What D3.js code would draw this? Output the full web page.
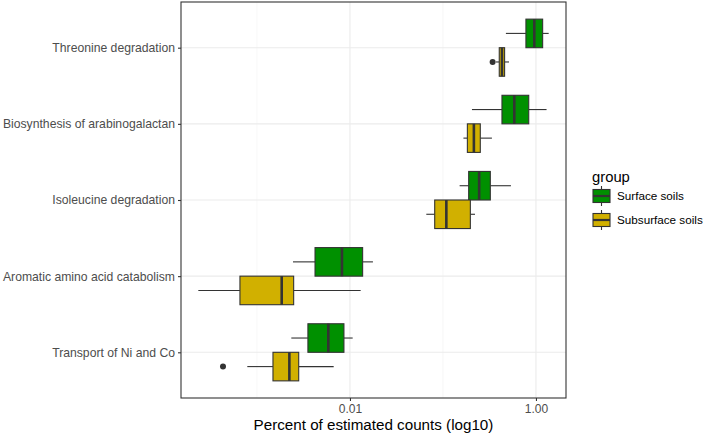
<!DOCTYPE html>
<html>
<head>
<meta charset="utf-8">
<script src="https://cdn.jsdelivr.net/npm/d3@7"></script>
<style>
  body { margin: 0; background: #fff; }
  text { font-family: "Liberation Sans", Arial, sans-serif; }
</style>
</head>
<body>
<svg id="chart" width="707" height="437"></svg>
<script>
// ---- data (five-number summaries) ----
const categories = ["Threonine degradation", "Biosynthesis of arabinogalactan", "Isoleucine degradation", "Aromatic amino acid catabolism", "Transport of Ni and Co"];
const groups = ["Surface soils", "Subsurface soils"];
const groupColors = ["#009000", "#D1B000"];

// Surface soils
const surfaceMin    = [0.475, 0.205, 0.151, 0.00244, 0.00234];
const surfaceQ1     = [0.78,  0.431, 0.189, 0.00421, 0.00353];
const surfaceMedian = [0.96,  0.585, 0.245, 0.0082,  0.00585];
const surfaceQ3     = [1.18,  0.836, 0.323, 0.01368, 0.00861];
const surfaceMax    = [1.37,  1.30,  0.538, 0.01766, 0.01069];
const surfaceOutliers = [[], [], [], [], []];

// Subsurface soils
const subsurfaceMin    = [0.372, 0.166, 0.0662, 0.000234, 0.000787];
const subsurfaceQ1     = [0.403, 0.183, 0.0815, 0.000656, 0.001486];
const subsurfaceMedian = [0.431, 0.215, 0.1087, 0.001845, 0.00223];
const subsurfaceQ3     = [0.460, 0.252, 0.197,  0.00248,  0.00281];
const subsurfaceMax    = [0.513, 0.336, 0.221,  0.01303,  0.00668];
const subsurfaceOutliers = [[0.342], [], [], [], [0.000431]];

const xTickValues = [0.01, 1];
const xTickLabels = ["0.01", "1.00"];
const xMinorValues = [0.001, 0.1];
const xTitle = "Percent of estimated counts (log10)";
const legendTitle = "group";

// ---- build records ----
const series = [
  { group: groups[0], color: groupColors[0], min: surfaceMin, q1: surfaceQ1, med: surfaceMedian, q3: surfaceQ3, max: surfaceMax, out: surfaceOutliers },
  { group: groups[1], color: groupColors[1], min: subsurfaceMin, q1: subsurfaceQ1, med: subsurfaceMedian, q3: subsurfaceQ3, max: subsurfaceMax, out: subsurfaceOutliers }
];
const boxes = [];
series.forEach(s => categories.forEach((c, i) => boxes.push({
  cat: c, group: s.group, color: s.color,
  min: s.min[i], q1: s.q1[i], med: s.med[i], q3: s.q3[i], max: s.max[i], out: s.out[i]
})));

// ---- layout ----
const panel = { left: 181, right: 566, top: 2, bottom: 398 };
const svg = d3.select("#chart");

const x = d3.scaleLog()
  .domain([Math.pow(10, -3.817), Math.pow(10, 0.323)])
  .range([panel.left, panel.right]);

const y = d3.scalePoint()
  .domain(categories)
  .range([panel.top, panel.bottom])
  .padding(0.6);

const step = y.step();
const dodge = d3.scaleBand()
  .domain(groups)
  .range([-0.375 * step, 0.375 * step])
  .padding(0);

// grid
const grid = svg.append("g");
grid.selectAll("line.minor").data(xMinorValues).join("line")
  .attr("x1", d => x(d)).attr("x2", d => x(d))
  .attr("y1", panel.top).attr("y2", panel.bottom)
  .attr("stroke", "#F2F2F2").attr("stroke-width", 0.6);
grid.selectAll("line.majx").data(xTickValues).join("line")
  .attr("x1", d => x(d)).attr("x2", d => x(d))
  .attr("y1", panel.top).attr("y2", panel.bottom)
  .attr("stroke", "#EBEBEB").attr("stroke-width", 1.1);
grid.selectAll("line.majy").data(categories).join("line")
  .attr("x1", panel.left).attr("x2", panel.right)
  .attr("y1", d => y(d)).attr("y2", d => y(d))
  .attr("stroke", "#EBEBEB").attr("stroke-width", 1.1);

// boxplots
const stroke = "#333333";
const bg = svg.append("g");
boxes.forEach(b => {
  const top = y(b.cat) + dodge(b.group);
  const h = dodge.bandwidth();
  const cy = top + h / 2;
  const g = bg.append("g");
  g.append("line").attr("x1", x(b.min)).attr("x2", x(b.q1)).attr("y1", cy).attr("y2", cy)
    .attr("stroke", stroke).attr("stroke-width", 1.1);
  g.append("line").attr("x1", x(b.q3)).attr("x2", x(b.max)).attr("y1", cy).attr("y2", cy)
    .attr("stroke", stroke).attr("stroke-width", 1.1);
  g.append("rect").attr("x", x(b.q1)).attr("y", top).attr("width", x(b.q3) - x(b.q1)).attr("height", h)
    .attr("fill", b.color).attr("stroke", stroke).attr("stroke-width", 1.1);
  g.append("line").attr("x1", x(b.med)).attr("x2", x(b.med)).attr("y1", top).attr("y2", top + h)
    .attr("stroke", stroke).attr("stroke-width", 2.6);
  b.out.forEach(o => g.append("circle").attr("cx", x(o)).attr("cy", cy).attr("r", 3)
    .attr("fill", stroke));
});

// panel border
svg.append("rect").attr("x", panel.left).attr("y", panel.top)
  .attr("width", panel.right - panel.left).attr("height", panel.bottom - panel.top)
  .attr("fill", "none").attr("stroke", "#333333").attr("stroke-width", 1.1);

// x axis
const xAxis = d3.axisBottom(x).tickValues(xTickValues)
  .tickFormat((d, i) => xTickLabels[i]).tickSize(3).tickPadding(3);
const gx = svg.append("g").attr("transform", `translate(0,${panel.bottom})`).call(xAxis);
gx.select(".domain").remove();
gx.selectAll(".tick line").attr("stroke", "#333333").attr("stroke-width", 1.1);
gx.selectAll(".tick text").attr("fill", "#4D4D4D").style("font-size", "12px")
  .style("font-family", "'Liberation Sans', Arial, sans-serif");

// y axis
const yAxis = d3.axisLeft(y).tickSize(3).tickPadding(3);
const gy = svg.append("g").attr("transform", `translate(${panel.left},0)`).call(yAxis);
gy.select(".domain").remove();
gy.selectAll(".tick line").attr("stroke", "#333333").attr("stroke-width", 1.1);
gy.selectAll(".tick text").attr("fill", "#4D4D4D").style("font-size", "12.2px")
  .style("font-family", "'Liberation Sans', Arial, sans-serif");

// x title
svg.append("text").attr("x", (panel.left + panel.right) / 2).attr("y", 430)
  .attr("text-anchor", "middle").attr("fill", "#000").style("font-size", "15.2px")
  .text(xTitle);

// legend
const lg = svg.append("g").attr("transform", "translate(592,0)");
lg.append("text").attr("x", 0).attr("y", 182).attr("fill", "#000").style("font-size", "14.8px")
  .text(legendTitle);
const keyCenters = [196, 220];
series.forEach((s, i) => {
  const cy = keyCenters[i];
  const k = lg.append("g");
  k.append("line").attr("x1", 9.5).attr("x2", 9.5).attr("y1", cy - 10).attr("y2", cy + 10)
    .attr("stroke", stroke).attr("stroke-width", 1.1);
  k.append("rect").attr("x", 1).attr("y", cy - 6.5).attr("width", 17).attr("height", 13)
    .attr("fill", s.color).attr("stroke", stroke).attr("stroke-width", 1.1);
  k.append("line").attr("x1", 1).attr("x2", 18).attr("y1", cy).attr("y2", cy)
    .attr("stroke", stroke).attr("stroke-width", 2.2);
  k.append("text").attr("x", 25).attr("y", cy).attr("dy", "0.35em").attr("fill", "#000")
    .style("font-size", "11.7px").text(s.group);
});
</script>
</body>
</html>
